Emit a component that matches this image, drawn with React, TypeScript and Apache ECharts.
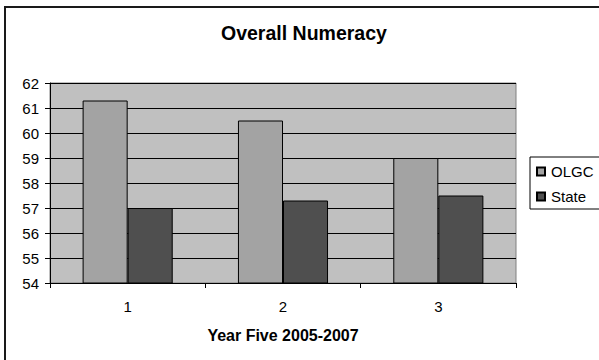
import React, { useEffect, useRef } from "react";
import * as echarts from "echarts";

const categories = ["1", "2", "3"];
const olgcValues = [61.3, 60.5, 59.0];
const stateValues = [57.0, 57.3, 57.5];
const seriesNames = ["OLGC", "State"];
const yMin = 54;
const yMax = 62;

const FONT = 'Arial, "Liberation Sans", sans-serif';

export default function App() {
  const ref = useRef<HTMLDivElement>(null);

  useEffect(() => {
    document.body.style.margin = "0";
    const chart = echarts.init(ref.current!, undefined, { renderer: "svg" });
    chart.setOption({
      animation: false,
      backgroundColor: "#ffffff",
      textStyle: { fontFamily: FONT, color: "#000" },
      title: {
        text: "Overall Numeracy",
        left: 221,
        top: 23,
        padding: 0,
        textStyle: { fontFamily: FONT, fontSize: 19.5, fontWeight: "bold", color: "#000" },
      },
      legend: {
        orient: "vertical",
        left: 530,
        top: 157,
        padding: [7, 6, 5, 6],
        itemWidth: 8,
        itemHeight: 8,
        itemGap: 10,
        icon: "rect",
        backgroundColor: "#fff",
        borderColor: "#000",
        borderWidth: 1,
        borderRadius: 0,
        data: seriesNames,
        textStyle: { fontFamily: FONT, fontSize: 15, color: "#000", padding: [0, 0, 0, 1] },
      },
      grid: {
        left: 50,
        top: 83,
        width: 466,
        height: 200,
        show: true,
        backgroundColor: "#c0c0c0",
        borderColor: "#808080",
        borderWidth: 1,
      },
      xAxis: {
        type: "category",
        data: categories,
        name: "Year Five 2005-2007",
        nameLocation: "middle",
        nameGap: 44,
        nameTextStyle: { fontFamily: FONT, fontSize: 16, fontWeight: "bold", color: "#000" },
        axisLine: { show: true, lineStyle: { color: "#000", width: 1 } },
        axisTick: { show: true, length: 5, lineStyle: { color: "#000" } },
        axisLabel: { fontFamily: FONT, fontSize: 15, color: "#000", margin: 16 },
        splitLine: { show: false },
      },
      yAxis: {
        type: "value",
        min: yMin,
        max: yMax,
        interval: 1,
        axisLine: { show: true, lineStyle: { color: "#000", width: 1 } },
        axisTick: { show: true, length: 5, lineStyle: { color: "#000" } },
        axisLabel: { fontFamily: FONT, fontSize: 15, color: "#000", margin: 11 },
        splitLine: { show: true, lineStyle: { color: "#000", width: 1 } },
      },
      series: [
        {
          name: seriesNames[0],
          type: "bar",
          data: olgcValues,
          barGap: "0%",
          barCategoryGap: "42%",
          itemStyle: { color: "#a3a3a3", borderColor: "#000", borderWidth: 1 },
        },
        {
          name: seriesNames[1],
          type: "bar",
          data: stateValues,
          barGap: "0%",
          barCategoryGap: "42%",
          itemStyle: { color: "#4f4f4f", borderColor: "#000", borderWidth: 1 },
        },
      ],
      graphic: [
        {
          type: "rect",
          z: -1,
          silent: true,
          shape: { x: 5, y: 7, width: 1000, height: 1000 },
          style: { fill: "none", stroke: "#1a1a1a", lineWidth: 2 },
        },
      ],
    });
    return () => chart.dispose();
  }, []);

  return <div ref={ref} style={{ width: 599, height: 360 }} />;
}
